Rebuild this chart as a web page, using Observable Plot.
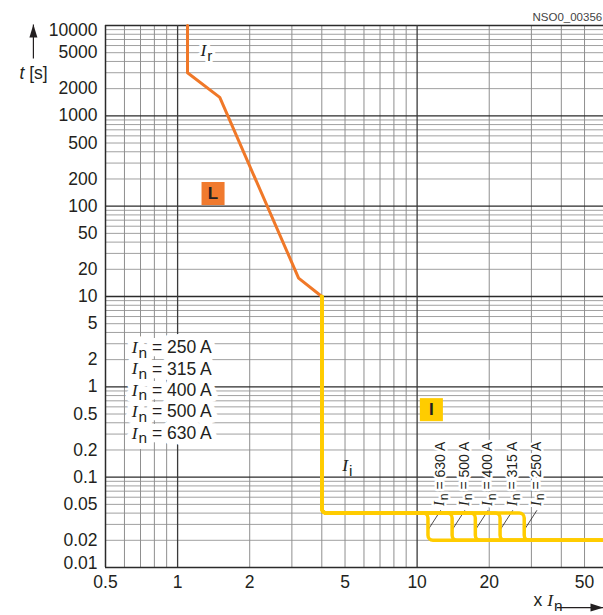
<!DOCTYPE html>
<html><head><meta charset="utf-8">
<script src="https://cdn.jsdelivr.net/npm/d3@7"></script>
<script src="https://cdn.jsdelivr.net/npm/@observablehq/plot@0.6"></script>
<style>
html,body{margin:0;padding:0;overflow:hidden;background:#fff;}
</style></head><body>
<div id="chart"></div>
<script>
// ---------- data ----------
const xTicks = [0.5, 1, 2, 5, 10, 20, 50];
const yTicks = [10000, 5000, 2000, 1000, 500, 200, 100, 50, 20, 10, 5, 2, 1, 0.5, 0.2, 0.1, 0.05, 0.02, 0.01];
const xGridMinor = [0.6, 0.7, 0.8, 0.9, 2, 3, 4, 5, 6, 7, 8, 9, 20, 30, 40, 50];
const xGridMajor = [1, 10];
const yDecades = [0.01, 0.1, 1, 10, 100, 1000];
const yMultiples = [2, 3, 4, 5, 6, 7, 8, 9];
const yGridMajor = [0.1, 1, 10, 100, 1000, 10000];
const yGridMinor = yDecades.flatMap(d => yMultiples.map(m => +(d * m).toPrecision(3)));

// L (overload) characteristic: multiples of In vs time [s]
const ltX = [1.1, 1.1, 1.5, 3.2, 4];
const ltT = [10000, 3000, 1600, 16, 10];

// I (instantaneous) characteristic
const ratedCurrents = [250, 315, 400, 500, 630];        // In [A]
const instStepX = [28, 22.2, 17.5, 14, 11.1];            // x In where time drops to 0.02 s
const iiPickupX = 4;
const iiStartT = 10;
const instTHigh = 0.04;
const instTLow = 0.02;
const xEnd = 60;

// annotation anchors (data space)
const badges = [
  {x: 1.406, t: 138, label: "L", color: "#F07A2E"},
  {x: 11.47, t: 0.559, label: "I", color: "#FFCC00"}
];
const curveLabels = [
  {x: 1.32, t: 5300, label: "I_r", halo: true},
  {x: 5.11, t: 0.134, label: "I_i", halo: false}
];
const legendAnchor = {x: 0.643, t: 2.73};
const axisArrows = [
  {x1: 0.25, y1: 4300, x2: 0.25, y2: 10250, dir: "up"},
  {x1: 38.3, y1: 0.0036, x2: 60, y2: 0.0036, dir: "right"}
];

// ---------- styles ----------
const ink = "#231f20";
const sans = "'Liberation Sans', Arial, Helvetica, sans-serif";
const serif = "'Liberation Serif', 'Times New Roman', serif";
const orange = "#F07828";
const yellow = "#FFCC00";
const fs = 17.5;

const headUp = {draw(ctx) { ctx.moveTo(0, 0); ctx.lineTo(4, 13); ctx.lineTo(-4, 13); ctx.closePath(); }};
const headRight = {draw(ctx) { ctx.moveTo(0, 0); ctx.lineTo(-13, 4); ctx.lineTo(-13, -4); ctx.closePath(); }};

// polyline with rounded corners (custom d3-style curve)
function curveRounded(radius) {
  return (context) => {
    let pts = [];
    return {
      areaStart() {}, areaEnd() {},
      lineStart() { pts = []; },
      lineEnd() {
        if (!pts.length) return;
        context.moveTo(pts[0][0], pts[0][1]);
        for (let i = 1; i < pts.length - 1; i++) {
          context.arcTo(pts[i][0], pts[i][1], pts[i + 1][0], pts[i + 1][1], radius);
        }
        const last = pts[pts.length - 1];
        context.lineTo(last[0], last[1]);
      },
      point(x, y) { pts.push([+x, +y]); }
    };
  };
}

const ltData = ltX.map((x, i) => ({x, t: ltT[i]}));
const instData = ratedCurrents.flatMap((In, i) => [
  {In, x: iiPickupX, t: iiStartT},
  {In, x: iiPickupX, t: instTHigh},
  {In, x: instStepX[i], t: instTHigh},
  {In, x: instStepX[i], t: instTLow},
  {In, x: xEnd, t: instTLow}
]);

const legendOpts = (i, halo) => ({
  x: () => legendAnchor.x, y: () => legendAnchor.t, dy: i * 21.4,
  text: d => `I_n = ${d} A`, textAnchor: "start", fontSize: fs,
  fill: halo ? "white" : ink,
  ...(halo ? {stroke: "white", strokeWidth: 12, strokeLinejoin: "round"} : {})
});
const rotOpts = (halo) => ({
  x: (d, i) => instStepX[i], y: () => 0.048, dx: 12, rotate: -90,
  text: d => `I_n = ${d} A`, textAnchor: "start", fontSize: 14,
  fill: halo ? "white" : ink,
  ...(halo ? {stroke: "white", strokeWidth: 5, strokeLinejoin: "round"} : {})
});

const chart = Plot.plot({
  width: 603, height: 615,
  marginTop: 25, marginRight: 0, marginBottom: 48, marginLeft: 105,
  x: {type: "log", domain: [0.5, 60], axis: null},
  y: {type: "log", domain: [0.01, 10000], axis: null},
  style: {fontFamily: sans, color: ink, background: "white", overflow: "visible"},
  marks: [
    Plot.ruleY(yGridMinor, {stroke: "#a0a0a0", strokeWidth: 1}),
    Plot.ruleX(xGridMinor, {stroke: "#8f8f8f", strokeWidth: 1}),
    Plot.ruleY(yGridMajor, {stroke: "#2b2b2b", strokeWidth: 1.3}),
    Plot.ruleX(xGridMajor, {stroke: "#3a3a3a", strokeWidth: 1.3}),
    Plot.ruleX([0.5], {stroke: "#2b2b2b", strokeWidth: 1.5}),
    Plot.ruleY([0.01], {stroke: "#2b2b2b", strokeWidth: 1.5}),

    // legend (In values): halo layer then ink layer
    ...ratedCurrents.map((In, i) => Plot.text([In], legendOpts(i, true))),
    ...ratedCurrents.map((In, i) => Plot.text([In], legendOpts(i, false))),

    // curve labels
    Plot.text(curveLabels.filter(d => d.halo), {x: "x", y: "t", text: "label", fontSize: fs, fill: "white",
      stroke: "white", strokeWidth: 6, strokeLinejoin: "round"}),
    Plot.text(curveLabels, {x: "x", y: "t", text: "label", fontSize: fs, fill: ink}),

    // leaders for rotated labels
    Plot.link(ratedCurrents, {
      x1: (d, i) => instStepX[i] * 1.13, y1: () => 0.043,
      x2: (d, i) => instStepX[i], y2: () => 0.026,
      stroke: ink, strokeWidth: 0.8
    }),

    // characteristic curves
    Plot.line(ltData, {x: "x", y: "t", stroke: orange, strokeWidth: 3, strokeLinejoin: "round"}),
    Plot.line(instData, {x: "x", y: "t", z: "In", stroke: yellow, strokeWidth: 3.5, strokeLinejoin: "round", curve: curveRounded(5)}),

    // rotated In labels
    Plot.text(ratedCurrents, rotOpts(true)),
    Plot.text(ratedCurrents, rotOpts(false)),

    // badges
    Plot.dot(badges, {x: "x", y: "t", symbol: "square", r: 13, fill: "color", stroke: null}),
    Plot.text(badges, {x: "x", y: "t", text: "label", fontSize: 17, fontWeight: "bold", fill: ink}),

    // tick labels
    Plot.text(yTicks.slice(1, -1), {y: d => d, frameAnchor: "left", dx: -8, textAnchor: "end", lineAnchor: "middle", text: d => String(d), fontSize: fs, fill: ink}),
    Plot.text(yTicks.slice(0, 1), {y: d => d, frameAnchor: "left", dx: -8, dy: 4.5, textAnchor: "end", lineAnchor: "middle", text: d => String(d), fontSize: fs, fill: ink}),
    Plot.text(yTicks.slice(-1), {y: d => d, frameAnchor: "left", dx: -8, dy: -4.5, textAnchor: "end", lineAnchor: "middle", text: d => String(d), fontSize: fs, fill: ink}),
    Plot.text(xTicks, {x: d => d, frameAnchor: "bottom", dy: 15, textAnchor: "middle", lineAnchor: "middle", text: d => String(d), fontSize: fs, fill: ink}),

    // axis titles & arrows
    Plot.text(["*t* [s]"], {frameAnchor: "top-left", dx: -72, dy: 48, textAnchor: "middle", lineAnchor: "middle", text: d => d, fontSize: fs, fill: ink}),
    Plot.text(["x I_n"], {frameAnchor: "bottom-right", dx: -70, dy: 33, textAnchor: "start", lineAnchor: "middle", text: d => d, fontSize: fs, fill: ink}),
    Plot.link(axisArrows, {x1: "x1", y1: "y1", x2: "x2", y2: "y2", stroke: ink, strokeWidth: 1.2}),
    Plot.dot(axisArrows.filter(d => d.dir === "up"), {x: "x2", y: "y2", symbol: headUp, fill: ink, stroke: null}),
    Plot.dot(axisArrows.filter(d => d.dir === "right"), {x: "x2", y: "y2", symbol: headRight, fill: ink, stroke: null}),
    Plot.text(["NSO0_00356"], {frameAnchor: "top-right", dx: -71, dy: -8, textAnchor: "start", lineAnchor: "middle", text: d => d, fontSize: 11.5, fill: "#444"})
  ]
});

// ---------- rich text: I_x -> italic I with subscript, *t* -> italic ----------
function enrich(el) {
  if (el.children.length) return;
  const s = el.textContent;
  if (!/I_[a-z]|\*[^*]+\*/.test(s)) return;
  el.textContent = "";
  const tokens = s.split(/(I_[a-z]|\*[^*]+\*)/).filter(Boolean);
  const sel = d3.select(el);
  let raised = false;
  for (const tok of tokens) {
    let m;
    if ((m = tok.match(/^I_([a-z])$/))) {
      const a = sel.append("tspan").attr("font-family", serif).attr("font-style", "italic").text("I");
      if (raised) a.attr("dy", "-0.26em");
      sel.append("tspan").attr("font-size", "88%").attr("dy", "0.3em").attr("dx", "1").text(m[1]);
      raised = true;
    } else if ((m = tok.match(/^\*([^*]+)\*$/))) {
      const a = sel.append("tspan").attr("font-style", "italic").text(m[1]);
      if (raised) { a.attr("dy", "-0.26em"); raised = false; }
    } else {
      const a = sel.append("tspan").text(tok);
      if (raised) { a.attr("dy", "-0.26em"); raised = false; }
    }
  }
}
d3.select(chart).selectAll("text").each(function () { enrich(this); });

document.getElementById("chart").appendChild(chart);
</script>
</body></html>
